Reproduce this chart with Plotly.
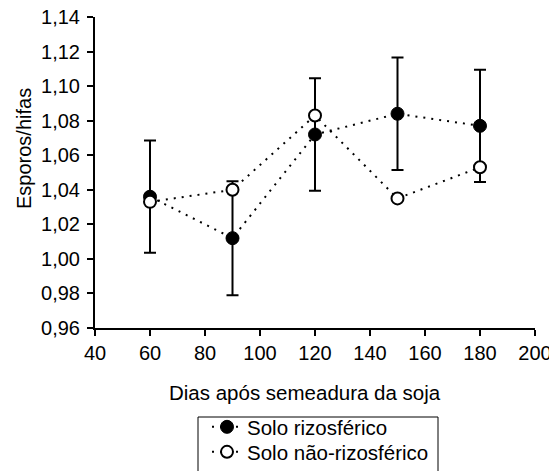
import plotly.graph_objects as go

dias = [60, 90, 120, 150, 180]
rizosferico = [1.036, 1.012, 1.072, 1.084, 1.077]
rizosferico_erro = [0.0325, 0.033, 0.0325, 0.0325, 0.0325]
nao_rizosferico = [1.033, 1.040, 1.083, 1.035, 1.053]

x_ticks = [40, 60, 80, 100, 120, 140, 160, 180, 200]
y_ticks = [0.96, 0.98, 1.00, 1.02, 1.04, 1.06, 1.08, 1.10, 1.12, 1.14]

FONT = "Liberation Sans, Arial, sans-serif"
FS = 20

# the page body has an 8px margin; figure is sized so it ends at the window edge
OFF = 8
WIN_W, WIN_H = 557, 471
W, H = WIN_W - OFF, WIN_H - OFF
# plot area in window pixels: x 95..535, y 17..328
L, R, T, B = 95 - OFF, WIN_W - 535, 17 - OFF, WIN_H - 328
PW, PH = W - L - R, H - T - B


def px_x(p):
    return (p - OFF - L) / PW


def px_y(p):
    return (H - B - (p - OFF)) / PH


fig = go.Figure()
fig.add_trace(go.Scatter(
    x=dias, y=rizosferico, name="Solo rizosférico", mode="lines+markers",
    line=dict(color="black", width=2, dash="2px,6px"),
    marker=dict(symbol="circle", size=13, color="black", line=dict(color="black", width=1)),
    error_y=dict(type="data", array=rizosferico_erro, visible=True, color="black", thickness=2, width=6),
    legend="legend",
))
fig.add_trace(go.Scatter(
    x=dias, y=nao_rizosferico, name="Solo não-rizosférico", mode="lines+markers",
    line=dict(color="black", width=2, dash="2px,6px"),
    marker=dict(symbol="circle", size=12, color="white", line=dict(color="black", width=2)),
    legend="legend2",
))

leg_common = dict(
    xanchor="left", yanchor="top", borderwidth=0, bgcolor="rgba(0,0,0,0)",
    font=dict(family=FONT, size=20.5, color="black"),
)

fig.update_layout(
    width=W, height=H,
    margin=dict(l=L, r=R, t=T, b=B, autoexpand=False),
    paper_bgcolor="white", plot_bgcolor="white",
    separators=",.",
    font=dict(family=FONT, size=FS, color="black"),
    showlegend=True,
    legend=dict(x=px_x(207), y=px_y(407), **leg_common),
    legend2=dict(x=px_x(207), y=px_y(432), **leg_common),
    xaxis=dict(
        range=[40, 200], tickvals=x_ticks,
        showline=True, linecolor="black", linewidth=2,
        ticks="outside", ticklen=6, tickwidth=2, tickcolor="black",
        ticklabelstandoff=0, ticklabeloverflow="allow",
        showgrid=False, zeroline=False,
        tickfont=dict(size=FS),
    ),
    yaxis=dict(
        range=[0.96, 1.14], tickvals=y_ticks, tickformat=".2f",
        showline=True, linecolor="black", linewidth=2,
        ticks="outside", ticklen=6, tickwidth=2, tickcolor="black",
        ticklabelstandoff=3, ticklabeloverflow="allow",
        showgrid=False, zeroline=False,
        tickfont=dict(size=FS),
    ),
    shapes=[dict(
        type="rect", xref="paper", yref="paper",
        x0=px_x(198), x1=px_x(438), y0=px_y(417), y1=px_y(480),
        line=dict(color="black", width=1), fillcolor="rgba(0,0,0,0)",
    )],
    annotations=[
        dict(text="Dias após semeadura da soja", xref="paper", yref="paper",
             x=px_x(305), y=px_y(392), xanchor="center", yanchor="middle",
             showarrow=False, font=dict(family=FONT, size=20.5, color="black")),
        dict(text="Esporos/hifas", xref="paper", yref="paper", textangle=-90,
             x=px_x(24), y=px_y(149), xanchor="center", yanchor="middle",
             showarrow=False, font=dict(family=FONT, size=FS, color="black")),
    ],
)

fig.write_html("out.html")
